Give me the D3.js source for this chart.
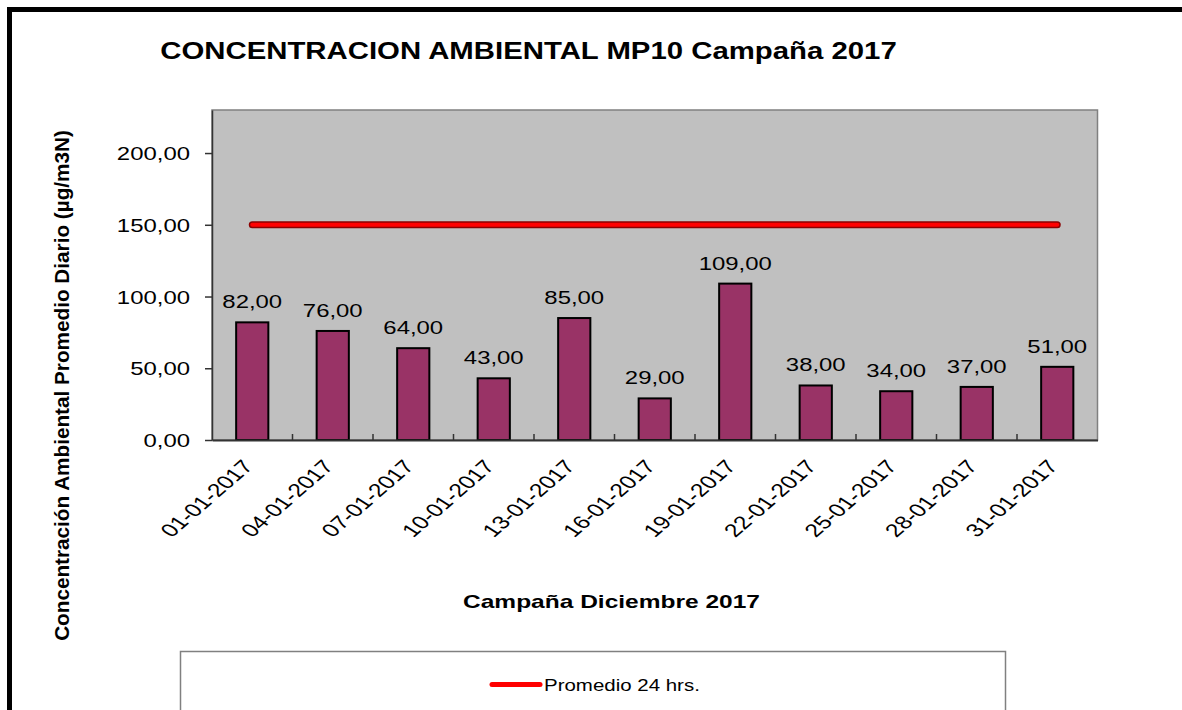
<!DOCTYPE html>
<html><head><meta charset="utf-8">
<script src="https://cdn.jsdelivr.net/npm/d3@7/dist/d3.min.js"></script>
<style>body{margin:0;background:#fff}svg{display:block;font-family:"Liberation Sans",Arial,sans-serif}</style>
</head><body>
<svg id="c" width="1182" height="710"></svg>
<script>
const categories = ["01-01-2017","04-01-2017","07-01-2017","10-01-2017","13-01-2017","16-01-2017","19-01-2017","22-01-2017","25-01-2017","28-01-2017","31-01-2017"];
const values = [82,76,64,43,85,29,109,38,34,37,51];
const limitValue = 150;
const yTicks = [0,50,100,150,200];
const title = "CONCENTRACION AMBIENTAL MP10 Campaña 2017";
const xTitle = "Campaña Diciembre 2017";
const yTitle = "Concentración Ambiental Promedio Diario (µg/m3N)";
const legendLabel = "Promedio 24 hrs.";

const SX = 1.33;
const fmt = v => d3.format(".2f")(v).replace(".", ",");
const svg = d3.select("#c");

// outer frame
svg.append("rect").attr("x",9.5).attr("y",9.5).attr("width",1200).attr("height",800)
  .attr("fill","none").attr("stroke","#000").attr("stroke-width",5);

const L = 212, R = 1097.5, T = 110, B = 440;
const x = d3.scaleBand().domain(categories).range([L,R]).paddingInner(0.6).paddingOuter(0.3);
const xb = d3.scaleBand().domain(categories).range([L,R]);
const y = d3.scaleLinear().domain([0,230]).range([B,T]);

svg.append("rect").attr("x",L).attr("y",T).attr("width",R-L).attr("height",B-T)
  .attr("fill","#c0c0c0").attr("stroke","#808080").attr("stroke-width",1.5);

function fit(sel, target){
  const w = sel.node().getComputedTextLength();
  return target / w;
}

// title
const tt = svg.append("text").attr("font-weight","bold").attr("font-size",24).attr("text-anchor","middle").text(title);
tt.attr("transform",`translate(528.5,59) scale(${fit(tt,737)},1)`);

// y axis
const yAxis = svg.append("g").attr("transform",`translate(${L},0)`)
  .call(d3.axisLeft(y).tickValues(yTicks).tickFormat(fmt).tickSizeInner(7).tickSizeOuter(0).tickPadding(0));
yAxis.select(".domain").attr("stroke","#333").attr("stroke-width",1.5);
yAxis.selectAll(".tick line").attr("stroke","#333").attr("stroke-width",1.5);
yAxis.selectAll(".tick text").attr("font-size",18).attr("fill","#000").attr("x",null).attr("dy",null)
  .attr("text-anchor","end")
  .attr("transform",`translate(-22,6.5) scale(${SX},1)`);

// bars
svg.append("g").selectAll("rect").data(values).join("rect")
  .attr("x",(d,i)=>x(categories[i])).attr("width",x.bandwidth())
  .attr("y",d=>y(d)).attr("height",d=>B-y(d))
  .attr("fill","#993366").attr("stroke","#000").attr("stroke-width",2);

// x axis
const xAxis = svg.append("g").attr("transform",`translate(0,${B})`)
  .call(d3.axisBottom(xb).tickSize(0).tickFormat(""));
xAxis.select(".domain").attr("stroke","#333").attr("stroke-width",2);
svg.append("g").selectAll("line").data(categories.slice(1)).join("line")
  .attr("x1",d=>xb(d)).attr("x2",d=>xb(d)).attr("y1",B).attr("y2",B-6)
  .attr("stroke","#333").attr("stroke-width",1.5);

svg.append("g").selectAll("text").data(categories).join("text")
  .attr("font-size",18.5).attr("text-anchor","end").attr("fill","#000")
  .attr("transform",d=>`translate(${xb(d)+xb.bandwidth()/2+2},${B+27}) scale(${SX},1) rotate(-49)`)
  .text(d=>d);

// data labels
svg.append("g").selectAll("text").data(values).join("text")
  .attr("font-size",18).attr("text-anchor","middle").attr("fill","#000")
  .attr("transform",(d,i)=>`translate(${x(categories[i])+x.bandwidth()/2},${y(d)-14}) scale(${SX},1)`)
  .text(d=>fmt(d));

// limit line
const cx = d => xb(d)+xb.bandwidth()/2;
const line = d3.line().x(d=>cx(d)).y(()=>y(limitValue));
svg.append("path").datum(categories).attr("d",line).attr("fill","none")
  .attr("stroke","#8b0000").attr("stroke-width",7).attr("stroke-linecap","round");
svg.append("path").datum(categories).attr("d",line).attr("fill","none")
  .attr("stroke","#ff0000").attr("stroke-width",4).attr("stroke-linecap","round");

// axis titles
const xt = svg.append("text").attr("font-weight","bold").attr("font-size",18).attr("text-anchor","middle").text(xTitle);
xt.attr("transform",`translate(611.5,608) scale(${fit(xt,297)},1)`);
const yt = svg.append("text").attr("font-weight","bold").attr("font-size",18).attr("text-anchor","middle").text(yTitle);
const yl = yt.node().getComputedTextLength();
yt.attr("transform",`translate(69,385.5) rotate(-90) scale(${511/yl},1.15)`);

// legend
svg.append("rect").attr("x",180.5).attr("y",651.5).attr("width",825).attr("height",100)
  .attr("fill","#fff").attr("stroke","#808080").attr("stroke-width",1.5);
svg.append("line").attr("x1",492).attr("x2",540).attr("y1",684.5).attr("y2",684.5)
  .attr("stroke","#ff0000").attr("stroke-width",5).attr("stroke-linecap","round");
const lt = svg.append("text").attr("font-size",16).attr("fill","#000").text(legendLabel);
lt.attr("transform",`translate(544,690.5) scale(${fit(lt,156)},1)`);
</script>
</body></html>
